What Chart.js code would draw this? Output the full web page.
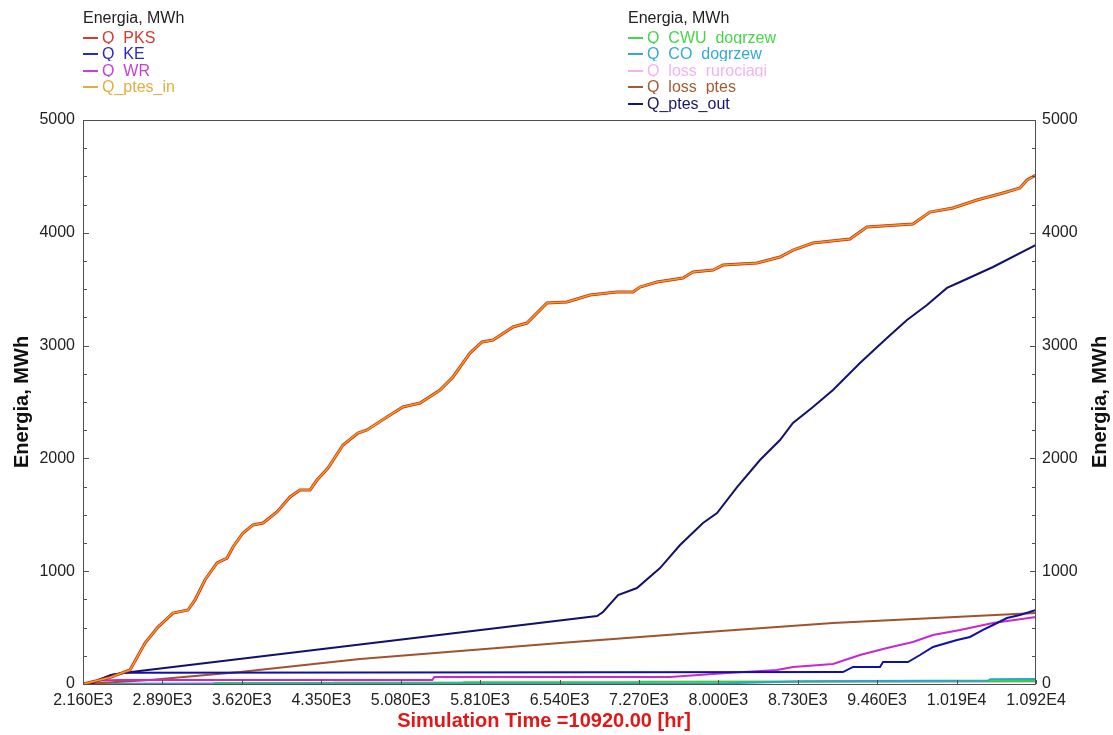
<!DOCTYPE html>
<html>
<head>
<meta charset="utf-8">
<script src="https://cdn.jsdelivr.net/npm/chart.js@4.4.0/dist/chart.umd.min.js"></script>
<style>
body { margin: 0; background: #fff; font-family: Arial, "Liberation Sans", sans-serif; }
#wrap { position: relative; width: 1113px; height: 735px; overflow: hidden; }
canvas { position: absolute; left: 0; top: 0; }
.leg { position: absolute; width: 220px; height: 16px; font-size: 16px; line-height: 19px; background: #fff; white-space: pre; }
.leg i { display: inline-block; width: 15px; height: 2px; vertical-align: middle; margin-right: 4px; position: relative; top: -1px; }
</style>
</head>
<body>
<div id="wrap">
<canvas id="chart" width="1113" height="735"></canvas>
</div>
<script>
const xTicks = [2160, 2890, 3620, 4350, 5080, 5810, 6540, 7270, 8000, 8730, 9460, 10190, 10920];
const yTicks = [0, 1000, 2000, 3000, 4000, 5000];

// Q_ptes_in (Q_PKS runs on top of the same curve)
const tPtesIn = [2160, 2400, 2550, 2592, 2730, 2849, 2987, 3125, 3190, 3281, 3392, 3484, 3539, 3631, 3723,
    3815, 3943, 4063, 4155, 4247, 4311, 4412, 4550, 4688, 4771, 4954, 5101, 5258, 5442, 5561,
    5717, 5828, 5929, 6113, 6241, 6425, 6609, 6820, 7069, 7216, 7280, 7436, 7675, 7767, 7951,
    8043, 8356, 8567, 8687, 8870, 9210, 9366, 9789, 9945, 10157, 10378, 10617, 10773, 10837, 10920];
const qPtesIn = [0, 55, 110, 124, 363, 505, 629, 656, 745, 922, 1073, 1117, 1215, 1339, 1410,
    1427, 1525, 1658, 1720, 1720, 1808, 1915, 2119, 2225, 2252, 2367, 2456, 2491, 2606, 2722,
    2934, 3032, 3050, 3165, 3200, 3378, 3386, 3448, 3475, 3475, 3519, 3564, 3599, 3652, 3670,
    3714, 3732, 3785, 3847, 3909, 3945, 4051, 4078, 4184, 4220, 4291, 4353, 4397, 4468, 4512];
const tPKS = tPtesIn;
const qPKS = qPtesIn;

const tPtesOut = [2160, 2250, 2316, 2420, 2546, 6885, 6940, 7078, 7252, 7464, 7648, 7859, 7988, 8172,
    8383, 8567, 8686, 8870, 9054, 9302, 9550, 9734, 9918, 10102, 10222, 10525, 10920];
const qPtesOut = [0, 10, 40, 80, 100, 603, 638, 789, 851, 1028, 1232, 1427, 1516, 1746,
    1986, 2163, 2314, 2456, 2606, 2846, 3067, 3227, 3360, 3511, 3564, 3697, 3892];

const tKE = [2160, 2250, 2316, 2420, 2546, 9146, 9238, 9486, 9514, 9743, 9854, 9973, 10194, 10313,
    10433, 10525, 10653, 10773, 10920];
const qKE = [0, 10, 40, 80, 100, 106, 151, 151, 195, 195, 257, 328, 390, 417,
    479, 523, 585, 612, 656];

const tWR = [2160, 2250, 2320, 2500, 5370, 5390, 7556, 8080, 8539, 8687, 9054, 9302, 9550, 9789,
    9973, 10222, 10525, 10920];
const qWR = [0, 15, 30, 35, 35, 62, 62, 98, 124, 151, 177, 257, 319, 372,
    434, 479, 541, 594];

const tLossPtes = [2160, 2776, 3603, 4706, 6545, 7768, 9054, 10920];
const qLossPtes = [0, 35, 106, 222, 363, 452, 541, 629];

const tCWU = [2160, 3360, 3370, 4450, 4460, 5650, 5660, 7250, 7260, 8800, 10920];
const qCWU = [0, 0, 8, 8, 12, 12, 16, 16, 20, 22, 26];

const tCO = [2160, 8000, 8800, 10480, 10500, 10920];
const qCO = [0, 5, 24, 30, 42, 44];

const tRur = [2160, 2400, 3400, 10920];
const qRur = [0, 6, 8, 20];

const legendLeft = ['Q_PKS', 'Q_KE', 'Q_WR', 'Q_ptes_in'];
const colorsLeft = ['#d63a30', '#2a2ac0', '#c640d4', '#e6ac40'];
const legendRight = ['Q_CWU_dogrzew', 'Q_CO_dogrzew', 'Q_loss_rurociagi', 'Q_loss_ptes', 'Q_ptes_out'];
const colorsRight = ['#48d448', '#34a8da', '#f2b4ee', '#a45a34', '#16166a'];

function series(label, t, q, color, width) {
    return {
        label: label,
        data: t.map((x, i) => ({x: x, y: q[i]})),
        borderColor: color,
        backgroundColor: color,
        borderWidth: width,
        pointRadius: 0,
        fill: false,
        tension: 0,
    };
}

function buildLegend(labels, colors, left) {
    const wrap = document.getElementById('wrap');
    const head = document.createElement('div');
    head.className = 'leg';
    head.style.left = left + 'px';
    head.style.top = '8px';
    head.style.color = '#222';
    head.textContent = 'Energia, MWh';
    wrap.appendChild(head);
    labels.forEach((label, i) => {
        const row = document.createElement('div');
        row.className = 'leg';
        row.style.left = left + 'px';
        row.style.top = Math.round(28 + 16.4 * i) + 'px';
        row.style.color = colors[i];
        const dash = document.createElement('i');
        dash.style.background = colors[i];
        row.appendChild(dash);
        row.appendChild(document.createTextNode(label));
        wrap.appendChild(row);
    });
}

const framePlugin = {
    id: 'frame',
    afterDraw(chart) {
        const ctx = chart.ctx;
        const a = chart.chartArea;
        const x = chart.scales.x;
        const y = chart.scales.y;
        ctx.save();
        ctx.strokeStyle = '#505050';
        ctx.lineWidth = 1;
        ctx.strokeRect(a.left + 0.5, a.top + 0.5, a.right - a.left - 1, a.bottom - a.top);
        ctx.beginPath();
        for (let v = 0; v <= 5000; v += 250) {
            const py = Math.round(y.getPixelForValue(v)) + 0.5;
            const len = v % 1000 === 0 ? 6 : 4;
            ctx.moveTo(a.left, py); ctx.lineTo(a.left + len, py);
            ctx.moveTo(a.right, py); ctx.lineTo(a.right - len, py);
        }
        xTicks.forEach(v => {
            const px = Math.round(x.getPixelForValue(v)) + 0.5;
            ctx.moveTo(px, a.bottom); ctx.lineTo(px, a.bottom - 4);
        });
        ctx.stroke();

        ctx.fillStyle = '#111';
        ctx.font = 'bold 20px Arial, "Liberation Sans", sans-serif';
        ctx.textAlign = 'center';
        ctx.textBaseline = 'middle';
        const midY = (a.top + a.bottom) / 2;
        [22, 1100].forEach(tx => {
            ctx.save();
            ctx.translate(tx, midY);
            ctx.rotate(-Math.PI / 2);
            ctx.fillText('Energia, MWh', 0, 0);
            ctx.restore();
        });
        ctx.fillStyle = '#e01818';
        ctx.fillText('Simulation Time =10920.00 [hr]', 544, 721);
        ctx.restore();
    }
};

const tickFont = {family: 'Arial, "Liberation Sans", sans-serif', size: 16};

function yAxis(position, width, pad) {
    return {
        type: 'linear',
        position: position,
        min: 0,
        max: 5000,
        afterBuildTicks: scale => { scale.ticks = yTicks.map(v => ({value: v})); },
        afterFit: scale => { scale.width = width; },
        grid: {display: false, drawTicks: false},
        border: {display: false},
        ticks: {color: '#222', font: tickFont, padding: pad, callback: v => String(v)},
    };
}

new Chart(document.getElementById('chart'), {
    type: 'line',
    data: {
        datasets: [
            series('Q_ptes_in', tPtesIn, qPtesIn, '#eca21e', 1.5),
            series('Q_PKS', tPKS, qPKS, '#d02818', 3),
            series('Q_ptes_out', tPtesOut, qPtesOut, '#12126a', 2),
            series('Q_KE', tKE, qKE, '#1010a8', 2),
            series('Q_WR', tWR, qWR, '#c828d0', 2),
            series('Q_loss_ptes', tLossPtes, qLossPtes, '#a0522d', 2),
            series('Q_CO_dogrzew', tCO, qCO, '#28a8c8', 2),
            series('Q_CWU_dogrzew', tCWU, qCWU, '#38d038', 2),
            series('Q_loss_rurociagi', tRur, qRur, '#f4b0ec', 2),
        ]
    },
    options: {
        responsive: false,
        animation: false,
        layout: {padding: {top: 120, left: 0, right: 0, bottom: 0}},
        plugins: {
            legend: {display: false},
            tooltip: {enabled: false},
        },
        scales: {
            x: {
                type: 'linear',
                min: 2160,
                max: 10920,
                afterBuildTicks: scale => { scale.ticks = xTicks.map(v => ({value: v})); },
                afterFit: scale => { scale.height = 51; },
                grid: {display: false, drawTicks: false},
                border: {display: false},
                ticks: {
                    color: '#222',
                    font: tickFont,
                    padding: 7,
                    maxRotation: 0,
                    autoSkip: false,
                    callback: v => v.toExponential(3).replace('e+', 'E'),
                },
            },
            y: yAxis('left', 83, 8),
            y2: yAxis('right', 77, 6),
        }
    },
    plugins: [framePlugin],
});

buildLegend(legendLeft, colorsLeft, 83);
buildLegend(legendRight, colorsRight, 628);
</script>
</body>
</html>
